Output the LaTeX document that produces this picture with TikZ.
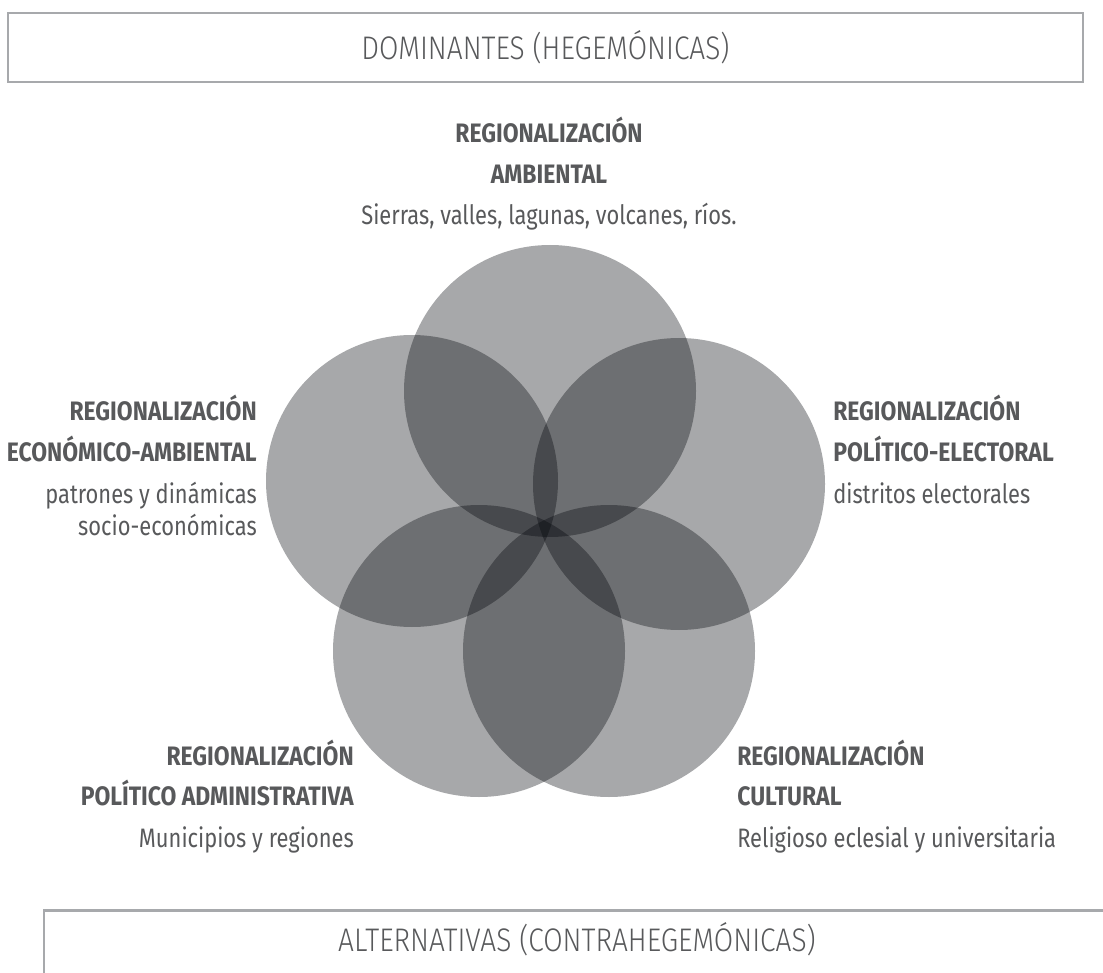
\documentclass[tikz,border=0pt]{standalone}
\usepackage{fontspec}
\setmainfont{Fira Sans}[FakeStretch=0.82]
\newfontfamily\headfont{Fira Sans}[FakeStretch=0.86]
\newfontfamily\lightfont{Fira Sans Light}[FakeStretch=0.86]
\usepackage{tikz}
\usetikzlibrary{positioning}

\definecolor{txtgray}{RGB}{88,89,91}
\definecolor{linegray}{RGB}{167,169,172}
\definecolor{discfill}{RGB}{0,3,8}

\begin{document}
\begin{tikzpicture}[x=0.75pt,y=-0.75pt,
    disc/.style={circle,fill=discfill,fill opacity=0.345,minimum size=219pt,inner sep=0pt},
    frame/.style={draw=linegray,line width=1.9pt},
    title/.style={text=txtgray,font=\lightfont\fontsize{24.5}{28}\selectfont},
    head/.style={text=txtgray,font=\headfont\bfseries\fontsize{20}{24}\selectfont,inner sep=0pt},
    body/.style={text=txtgray,font=\fontsize{20}{24}\selectfont,inner sep=0pt}]
    \useasboundingbox (0,0) rectangle (1103,973);

    % circles
    \node[disc] (amb) at (550,391) {};
    \node[disc] (eco) at (412,481) {};
    \node[disc] (pol) at (679,484) {};
    \node[disc] (adm) at (479,651) {};
    \node[disc] (cul) at (609,651) {};

    % boxes
    \node[frame,title,minimum width=806pt,minimum height=52pt] (dom) at (545.5,47.5) {DOMINANTES (HEGEMÓNICAS)};
    \coordinate (altl) at (44,973);
    \coordinate (altr) at (1103,910.5);
    \draw[frame] (altl) |- (altr);
    \node[title] (alt) at (577,939) {ALTERNATIVAS (CONTRAHEGEMÓNICAS)};

    % labels
    \node[head,anchor=base] (amb1) at (549,143) {REGIONALIZACIÓN};
    \node[head,anchor=base] (amb2) at (549,184) {AMBIENTAL};
    \node[body,anchor=base] (amb3) at (549,225) {Sierras, valles, lagunas, volcanes, ríos.};

    \node[head,anchor=base east] (eco1) at (257,421) {REGIONALIZACIÓN};
    \node[head,anchor=base east] (eco2) at (257,461) {ECONÓMICO-AMBIENTAL};
    \node[body,anchor=base east] (eco3) at (257,503) {patrones y dinámicas};
    \node[body,anchor=base east] (eco4) at (257,535) {socio-económicas};

    \node[head,anchor=base west] (pol1) at (833,421) {REGIONALIZACIÓN};
    \node[head,anchor=base west] (pol2) at (833,461) {POLÍTICO-ELECTORAL};
    \node[body,anchor=base west] (pol3) at (833,503) {distritos electorales};

    \node[head,anchor=base east] (adm1) at (354,765) {REGIONALIZACIÓN};
    \node[head,anchor=base east] (adm2) at (354,805) {POLÍTICO ADMINISTRATIVA};
    \node[body,anchor=base east] (adm3) at (354,847) {Municipios y regiones};

    \node[head,anchor=base west] (cul1) at (737,765) {REGIONALIZACIÓN};
    \node[head,anchor=base west] (cul2) at (737,805) {CULTURAL};
    \node[body,anchor=base west] (cul3) at (737,847) {Religioso eclesial y universitaria};
\end{tikzpicture}
\end{document}
